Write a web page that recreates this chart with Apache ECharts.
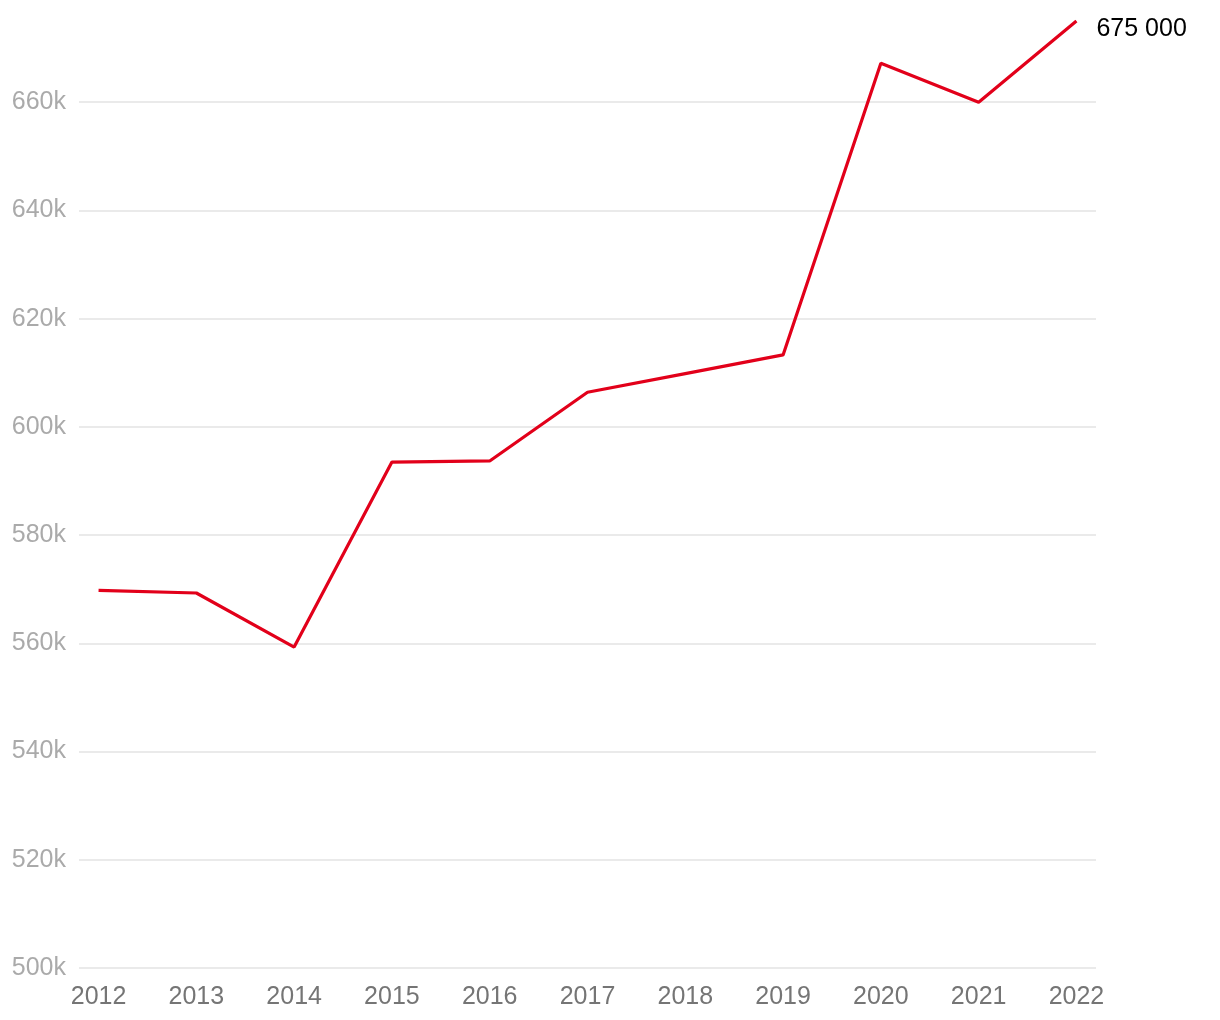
<!DOCTYPE html>
<html>
<head>
<meta charset="utf-8">
<script src="https://cdn.jsdelivr.net/npm/echarts@6/dist/echarts.min.js"></script>
<style>html,body{margin:0;padding:0;background:#fff}#c{width:1220px;height:1020px}</style>
</head>
<body>
<div id="c"></div>
<script>
const years = [2012, 2013, 2014, 2015, 2016, 2017, 2018, 2019, 2020, 2021, 2022];
const values = [569800, 569300, 559300, 593500, 593700, 606400, 609850, 613300, 667200, 660000, 675000];
const yTicks = [500000, 520000, 540000, 560000, 580000, 600000, 620000, 640000, 660000];

const chart = echarts.init(document.getElementById('c'));
const fmtSpace = v => String(Math.round(v)).replace(/\B(?=(\d{3})+(?!\d))/g, ' ');
chart.setOption({
  animation: false,
  grid: { left: 79, right: 124, top: 21, bottom: 52, containLabel: false },
  xAxis: {
    type: 'value', min: 2011.8, max: 2022.2,
    axisLine: { show: false }, axisTick: { show: false }, splitLine: { show: false },
    axisLabel: { customValues: years, color: '#757575', fontSize: 25, fontFamily: 'Liberation Sans, Arial', margin: 17, formatter: v => String(v) }
  },
  yAxis: {
    type: 'value', min: 500000, max: 675000, interval: 20000,
    axisLine: { show: false }, axisTick: { show: false, customValues: yTicks },
    splitLine: { lineStyle: { color: '#e3e3e3', width: 1.5 } },
    axisLabel: { customValues: yTicks, color: '#aaaaaa', fontSize: 25, fontFamily: 'Liberation Sans, Arial', margin: 13, padding: [5, 0, 0, 0], formatter: v => (v / 1000) + 'k' }
  },
  series: [{
    type: 'line',
    data: years.map((y, i) => [y, values[i]]),
    showSymbol: false,
    lineStyle: { color: '#e2001a', width: 3.2 },
    itemStyle: { color: '#e2001a' },
    endLabel: { show: true, formatter: p => fmtSpace(p.value[1]), color: '#000', fontSize: 25, fontFamily: 'Liberation Sans, Arial', distance: 20, offset: [0, 8] }
  }]
});
</script>
</body>
</html>
